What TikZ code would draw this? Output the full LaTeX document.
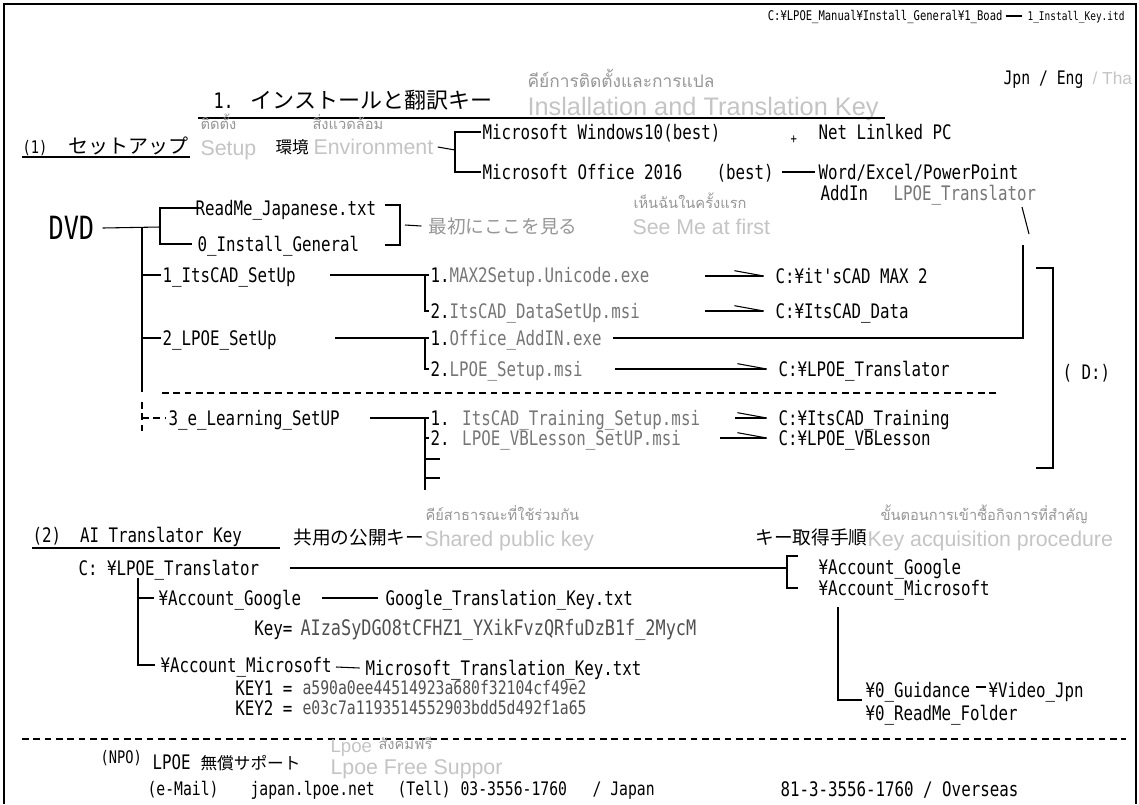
\documentclass[tikz,border=0pt]{standalone}
\usepackage{fontspec}
\usetikzlibrary{arrows.meta}
\newfontfamily\nmono[FakeStretch=0.79]{DejaVu Sans Mono}
\newfontfamily\jpfont{Noto Sans CJK JP}
\newfontfamily\thfont[Script=Thai]{Loma}
\newfontfamily\enfont{Liberation Sans}
\definecolor{LightGray}{RGB}{196,196,196}
\definecolor{MidGray}{RGB}{150,150,150}
\definecolor{FileGray}{RGB}{118,118,118}
\definecolor{KeyGray}{RGB}{80,80,80}

\begin{document}
\begin{tikzpicture}[
        %Environment config
        x=0.75pt,y=-0.75pt,
        line width=0.8pt,
        %Environment styles
        Txt/.style={anchor=west,inner sep=0pt,text height=11pt,text depth=0pt,
            font=\nmono\fontsize{15}{18}\selectfont},
        SmallTxt/.style={Txt,text height=7.3pt,font=\nmono\fontsize{10}{12}\selectfont},
        MidTxt/.style={Txt,text height=9.5pt,font=\nmono\fontsize{13}{15}\selectfont},
        LowTxt/.style={Txt,text height=10.2pt,font=\nmono\fontsize{14}{16}\selectfont},
        KeyTxt/.style={LowTxt,text=KeyGray},
        FileTxt/.style={Txt,text=FileGray},
        JpTxt/.style={anchor=west,inner sep=0pt,text height=11pt,text depth=0pt,
            font=\jpfont\fontsize{15}{18}\selectfont},
        EnTxt/.style={anchor=west,inner sep=0pt,text height=11.5pt,text depth=0pt,
            text=LightGray,font=\enfont\fontsize{16}{18}\selectfont},
        ThTxt/.style={anchor=west,inner sep=0pt,text height=7.3pt,text depth=0pt,
            text=MidGray,font=\thfont\fontsize{11}{12}\selectfont},
        Harp/.style={-{Straight Barb[harpoon,length=22pt,width=8pt]}},
        DashLine/.style={dash pattern=on 5pt off 3.5pt}
    ]
    \useasboundingbox (0,0) rectangle (1139,804);
    \draw[line width=1.6pt] (4,804) -- (4,4) -- (1136,4) -- (1136,804);

    % header
    \node[SmallTxt,anchor=east] (PATH) at (1003,16) {C:¥LPOE\_Manual¥Install\_General¥1\_Boad};
    \node[SmallTxt,font=\nmono\fontsize{9}{11}\selectfont] (ITD) at (1027,16) {1\_Install\_Key.itd};
    \draw ([xshift=2pt]PATH.east) -- ([xshift=-4pt]ITD.west);
    \node[LowTxt] (LANG) at (1003,78) {Jpn / Eng};
    \node[EnTxt,text height=9.3pt,font=\enfont\fontsize{13}{15}\selectfont] (THA) at (1092,78) {/ Tha};

    \node[Txt,font=\nmono\fontsize{16}{18}\selectfont] (TNUM) at (213,101) {1.};
    \node[JpTxt,font=\jpfont\fontsize{16.5}{20}\selectfont] (TITLE) at (250,101) {インストールと翻訳キー};
    \node[ThTxt,text height=8.7pt,font=\thfont\fontsize{13}{15}\selectfont] (TTH) at (527,82) {คีย์การติดตั้งและการแปล};
    \node[EnTxt,text height=13.6pt,font=\enfont\fontsize{19}{22}\selectfont] (TEN) at (527,106) {Inslallation and Translation Key};
    \draw (198,118) -- (885,118);

    % (1) setup
    \node[MidTxt] (S1) at (22,147) {(1)};
    \node[JpTxt] (SETUP) at (68,146) {セットアップ};
    \draw (22,157) -- (190,157);
    \node[ThTxt] (SETTH) at (200,125) {ติดตั้ง};
    \node[EnTxt] (SETEN) at (200,148) {Setup};
    \node[JpTxt,font=\jpfont\fontsize{12.5}{15}\selectfont] (ENV) at (275,146) {環境};
    \node[ThTxt] (ENVTH) at (312,125) {สิ่งแวดล้อม};
    \node[EnTxt] (ENVEN) at (313,147) {Environment};
    \node[Txt] (WIN) at (482,132) {Microsoft Windows10(best)};
    \node[Txt] (OFF) at (482,172) {Microsoft Office 2016};
    \node[Txt] (BEST) at (716,172) {(best)};
    \node[SmallTxt] (PLUS) at (790,139) {+};
    \node[Txt] (NET) at (818,132) {Net Linlked PC};
    \node[Txt] (WORD) at (818,172) {Word/Excel/PowerPoint};
    \node[Txt] (ADDIN) at (820,193) {AddIn};
    \node[FileTxt] (LTR) at (893,193) {LPOE\_Translator};
    \draw ([xshift=3pt]ENVEN.east) -- (455,150);
    \draw ([xshift=-1pt]WIN.west) -| (455,152) |- ([xshift=-1pt]OFF.west);
    \draw ([xshift=6pt]BEST.east) -- ([xshift=-2pt]WORD.west);

    % DVD
    \node[Txt,text height=17.5pt,font=\nmono\fontsize{24}{28}\selectfont] (DVD) at (48,228) {DVD};
    \node[Txt] (RM) at (195,208) {ReadMe\_Japanese.txt};
    \node[Txt] (IG) at (197,244) {0\_Install\_General};
    \draw ([xshift=6pt]DVD.east) -- (160,227);
    \draw ([xshift=3pt]RM.west) -| (160,244) -- ([xshift=-4pt]IG.west);
    \draw (385,205) -- (400,205) -- (400,245) -- (385,245);
    \node[JpTxt,text=MidGray,font=\jpfont\fontsize{14}{17}\selectfont] (SEE) at (428,226) {最初にここを見る};
    \draw (405,225) -- ([xshift=-5pt]SEE.west);
    \node[ThTxt] (SEETH) at (633,204) {เห็นฉันในครั้งแรก};
    \node[EnTxt] (SEEEN) at (632,227) {See Me at first};
    \draw (142,227) -- (142,392);

    \node[Txt] (CAD) at (162,275) {1\_ItsCAD\_SetUp};
    \node[Txt] (LPS) at (162,338) {2\_LPOE\_SetUp};
    \node[Txt] (ELS) at (168,418) {3\_e\_Learning\_SetUP};
    \draw (142,275) -- ([xshift=-1pt]CAD.west);
    \draw (142,338) -- ([xshift=-1pt]LPS.west);
    \draw[DashLine] (142,402) -- (142,432);
    \draw[DashLine] (142,418) -- ([xshift=-2pt]ELS.west);

    \node[Txt] (MAXE) at (430,275) {1.\textcolor{FileGray}{MAX2Setup.Unicode.exe}};
    \node[Txt] (DATA) at (430,311) {2.\textcolor{FileGray}{ItsCAD\_DataSetUp.msi}};
    \node[Txt] (OA) at (430,338) {1.\textcolor{FileGray}{Office\_AddIN.exe}};
    \node[Txt] (LSM) at (430,369) {2.\textcolor{FileGray}{LPOE\_Setup.msi}};
    \node[Txt] (TRN) at (430,418) {1. \textcolor{FileGray}{ItsCAD\_Training\_Setup.msi}};
    \node[Txt] (VBL) at (430,438) {2. \textcolor{FileGray}{LPOE\_VBLesson\_SetUP.msi}};
    \draw (330,275) -- ([xshift=-1pt]MAXE.west);
    \draw (425,275) |- ([xshift=-1pt]DATA.west);
    \draw (335,338) -- ([xshift=-1pt]OA.west);
    \draw (425,338) |- ([xshift=-1pt]LSM.west);
    \draw (370,418) -- ([xshift=-1pt]TRN.west);
    \draw (425,418) |- ([xshift=-1pt]VBL.west);
    \draw (425,438) -- (425,490);
    \draw (425,459) -- (440,459);
    \draw (425,478) -- (440,478);

    \node[Txt] (DMAX) at (775,276) {C:¥it'sCAD MAX 2};
    \node[Txt] (DDATA) at (775,311) {C:¥ItsCAD\_Data};
    \node[Txt] (DLT) at (778,369) {C:¥LPOE\_Translator};
    \node[Txt] (DTRN) at (778,418) {C:¥ItsCAD\_Training};
    \node[Txt] (DVBL) at (778,438) {C:¥LPOE\_VBLesson};
    \draw[Harp] (705,276) -- ([xshift=-4pt]DMAX.west);
    \draw[Harp] (705,311) -- ([xshift=-4pt]DDATA.west);
    \draw[Harp] (615,369) -- ([xshift=-4pt]DLT.west);
    \draw[Harp] (735,418) -- ([xshift=-4pt]DTRN.west);
    \draw[Harp] (720,438) -- ([xshift=-4pt]DVBL.west);

    \draw (1022,207) -- (1029,234);
    \draw ([xshift=8pt]OA.east) -| (1023,245);

    \draw[DashLine] (162,393) -- (1000,393);
    \draw (1036,268) -- (1053,268) -- (1053,468) -- (1036,468);
    \node[Txt] (DD) at (1062,372) {( D:)};

    % (2) translator key
    \node[Txt] (AIK) at (32,535) {(2)\ \ AI Translator Key};
    \draw (32,548) -- (280,548);
    \node[JpTxt,font=\jpfont\fontsize{14}{17}\selectfont] (SHJ) at (293,537) {共用の公開キー};
    \node[ThTxt] (SHTH) at (425,516) {คีย์สาธารณะที่ใช้ร่วมกัน};
    \node[EnTxt] (SHEN) at (424,539) {Shared public key};
    \node[JpTxt,font=\jpfont\fontsize{14}{17}\selectfont] (KAJ) at (755,537) {キー取得手順};
    \node[ThTxt] (KATH) at (880,516) {ขั้นตอนการเข้าซื้อกิจการที่สำคัญ};
    \node[EnTxt] (KAEN) at (867,539) {Key acquisition procedure};

    \node[Txt] (CLT) at (78,568) {C: ¥LPOE\_Translator};
    \node[Txt] (AGR) at (818,567) {¥Account\_Google};
    \node[Txt] (AMR) at (818,588) {¥Account\_Microsoft};
    \draw (290,568) -- (787,568);
    \draw (798,556) -- (787,556) -- (787,588) -- (798,588);
    \draw (838,607) -- (838,700) -- (862,700);
    \node[Txt] (GUI) at (865,690) {¥0\_Guidance};
    \node[Txt] (VID) at (988,690) {¥Video\_Jpn};
    \draw (976,687) -- (986,687);
    \node[Txt] (RMF) at (865,713) {¥0\_ReadMe\_Folder};

    \node[Txt] (AG) at (158,598) {¥Account\_Google};
    \node[Txt] (GK) at (385,598) {Google\_Translation\_Key.txt};
    \draw (322,598) -- ([xshift=-5pt]GK.west);
    \node[Txt,anchor=east] (KEY) at (293,628) {Key=};
    \node[KeyTxt,text height=11.7pt,font=\nmono\fontsize{16}{18}\selectfont] (KEYV) at (300,628) {AIzaSyDGO8tCFHZ1\_YXikFvzQRfuDzB1f\_2MycM};
    \node[Txt] (AM) at (160,665) {¥Account\_Microsoft};
    \node[Txt] (MK) at (365,668) {Microsoft\_Translation\_Key.txt};
    \draw (336,667) -- ([xshift=-4pt]MK.west);
    \node[Txt,anchor=east] (K1) at (293,688) {KEY1 =};
    \node[KeyTxt] (K1V) at (302,688) {a590a0ee44514923a680f32104cf49e2};
    \node[Txt,anchor=east] (K2) at (293,708) {KEY2 =};
    \node[KeyTxt] (K2V) at (302,708) {e03c7a1193514552903bdd5d492f1a65};
    \draw (138,578) -- (138,665) -- ([xshift=-4pt]AM.west);
    \draw (138,598) -- ([xshift=-3pt]AG.west);

    % support
    \draw[DashLine] (22,739) -- (1126,739);
    \node[MidTxt] (NPO) at (100,757) {(NPO)};
    \node[Txt] (LP) at (152,762) {LPOE};
    \node[JpTxt,font=\jpfont\fontsize{12.5}{15}\selectfont] (MS) at (200,762) {無償サポート};
    \node[EnTxt,font=\enfont\fontsize{14}{16}\selectfont,text height=10pt] (LPE) at (330,746) {Lpoe};
    \node[ThTxt] (LPTH) at (378,745) {สังคมฟรี};
    \node[EnTxt] (LPF) at (330,767) {Lpoe Free Suppor};
    \node[LowTxt] (EM) at (147,789) {(e-Mail)};
    \node[LowTxt] (JLN) at (250,789) {japan.lpoe.net};
    \node[LowTxt] (TEL) at (397,789) {(Tell)};
    \node[LowTxt] (TELN) at (460,789) {03-3556-1760};
    \node[LowTxt] (JPN) at (592,789) {/ Japan};
    \node[Txt] (OVS) at (780,789) {81-3-3556-1760 / Overseas};
\end{tikzpicture}
\end{document}
